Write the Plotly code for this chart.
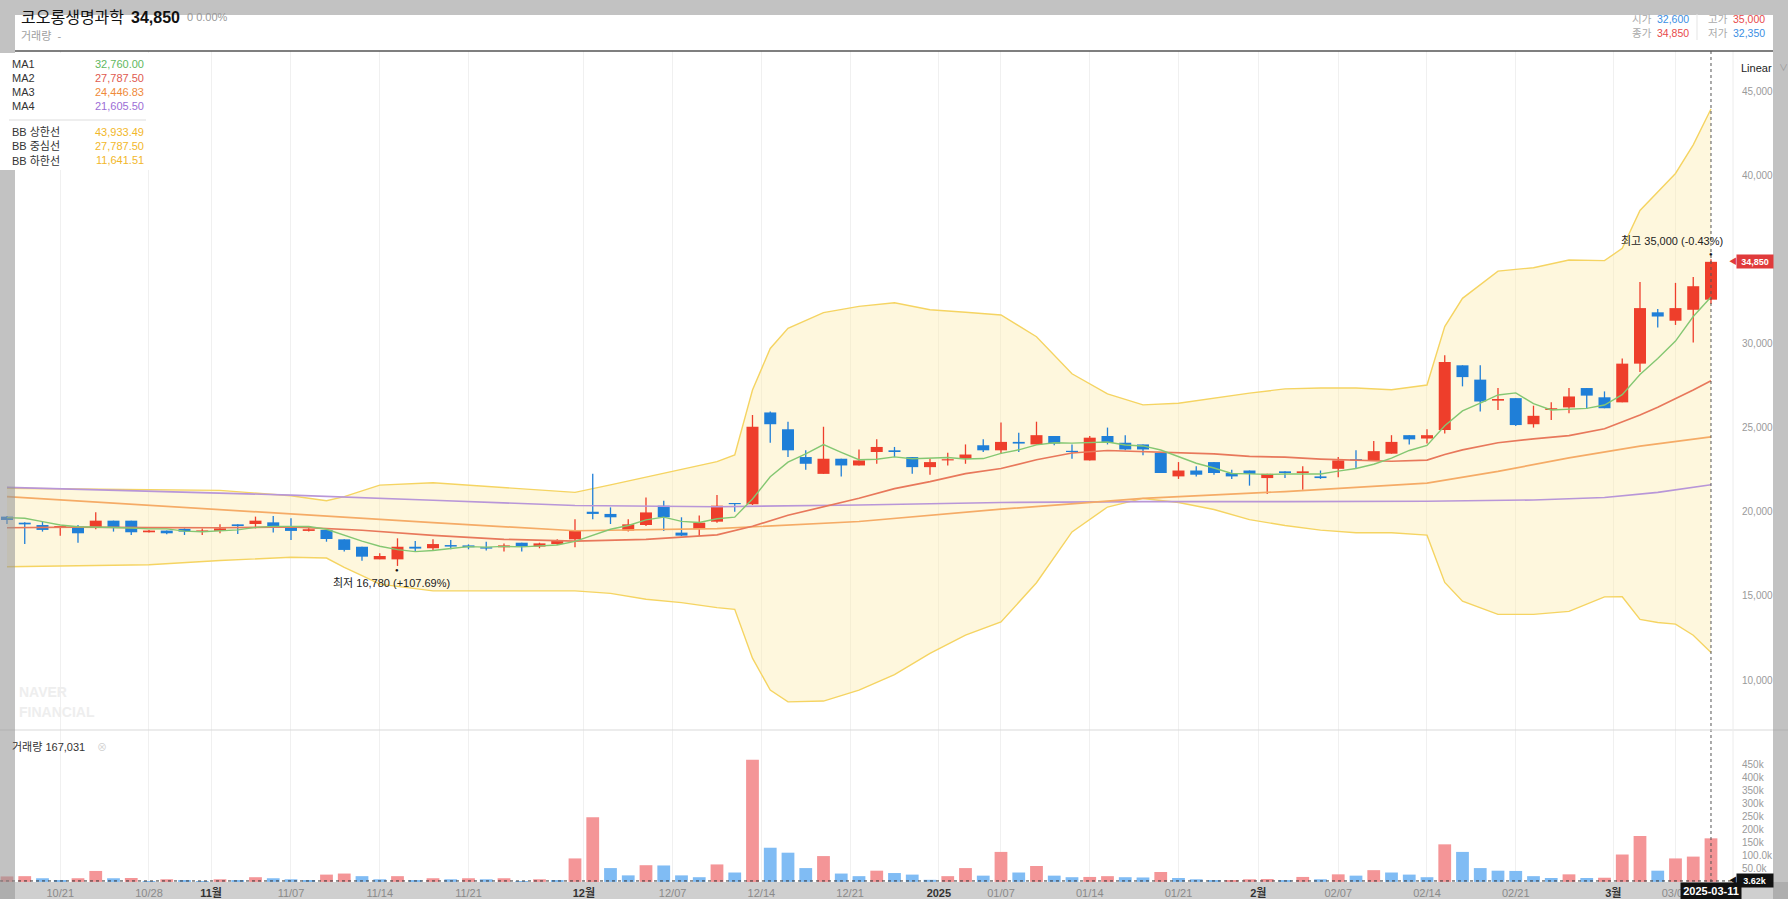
import pandas as pd
import plotly.graph_objects as go

W, H = 1788, 899
FONT = "Liberation Sans, Noto Sans CJK KR, sans-serif"

# trading days shown (KRX calendar)
DATES = pd.bdate_range(
    "2024-10-16", "2025-03-11", freq="C",
    holidays=["2024-12-25", "2024-12-31", "2025-01-01", "2025-01-27", "2025-01-28",
              "2025-01-29", "2025-01-30", "2025-03-03"],
).strftime("%Y-%m-%d").tolist()

OPEN = [19710, 19350, 19210, 19050, 19110, 19070, 19470, 19470, 18780, 18880,
        18980, 18820, 18860, 19250, 19270, 19370, 19050, 18860, 18920, 18360,
        17920, 17170, 17170, 17920, 17830, 18020, 18000, 17890, 17890, 18160,
        17930, 18080, 18360, 20000, 19870, 18880, 19210, 20360, 18760, 18970,
        19410, 20500, 20450, 25900, 24900, 23250, 22250, 23150, 22750, 23550,
        23650, 23250, 22650, 23050, 23150, 23950, 23650, 24150, 24000, 24500,
        23600, 23050, 24500, 24100, 24000, 23500, 22100, 22450, 22950, 22300,
        22450, 22000, 22400, 22300, 22100, 22550, 23100, 23050, 23450, 24550,
        24350, 24850, 28700, 27850, 26600, 26750, 25200, 26050, 26200, 27350,
        26800, 26500, 28800, 31850, 31350, 32000, 32600]
HIGH = [19750, 19370, 19410, 19150, 19210, 19970, 19470, 19470, 18920, 18880,
        19010, 19010, 19250, 19250, 19710, 19750, 19610, 19110, 18920, 18360,
        17920, 17530, 18420, 18260, 18360, 18320, 18060, 18220, 18120, 18160,
        18160, 18360, 19550, 22250, 20260, 19550, 20840, 20660, 19670, 19770,
        21000, 20500, 25750, 25950, 25350, 23650, 25050, 23150, 23700, 24300,
        23850, 23250, 23150, 23500, 24000, 24300, 25300, 24700, 25350, 24500,
        24000, 24500, 25000, 24550, 24000, 23500, 22950, 22700, 22950, 22500,
        22450, 22250, 22400, 22700, 22450, 23250, 23650, 24200, 24550, 24550,
        24900, 29300, 28700, 28700, 27350, 26750, 26300, 26500, 27350, 27350,
        27150, 29100, 33650, 32050, 33600, 33950, 35000]
LOW = [19270, 18080, 18820, 18580, 18160, 18960, 18820, 18620, 18760, 18660,
       18620, 18620, 18720, 18680, 19010, 18760, 18320, 18820, 18220, 17630,
       17090, 17170, 16780, 17630, 17690, 17770, 17770, 17690, 17630, 17630,
       17830, 18020, 17890, 19550, 19270, 18820, 19150, 18860, 18560, 18560,
       19350, 20000, 20400, 24100, 23250, 22500, 22250, 22100, 22750, 22850,
       23250, 22250, 22200, 22750, 22850, 23550, 23450, 23550, 24000, 23950,
       23150, 23050, 24000, 23650, 23350, 22300, 21950, 22100, 22200, 21950,
       21550, 21050, 22000, 21300, 21950, 22050, 22600, 23050, 23450, 24000,
       24050, 24650, 27450, 25950, 26050, 25100, 25000, 25450, 25850, 26100,
       26150, 26500, 28300, 30950, 31100, 30050, 32350]
CLOSE = [19510, 19250, 18920, 19150, 18720, 19470, 19050, 18780, 18880, 18720,
         18820, 18880, 19010, 19150, 19470, 19150, 18860, 18960, 18380, 17730,
         17330, 17370, 17920, 17810, 18080, 17930, 17890, 17810, 18000, 17930,
         18120, 18260, 18880, 19870, 19670, 19250, 19960, 19670, 18580, 19350,
         20360, 20450, 25050, 25200, 23650, 22850, 23150, 22750, 23050, 23850,
         23550, 22650, 22950, 23100, 23400, 23650, 24150, 24050, 24550, 24050,
         23550, 24400, 24100, 23700, 23700, 22300, 22450, 22200, 22300, 22100,
         22250, 22250, 22300, 22400, 22000, 23050, 23050, 23600, 24150, 24300,
         24550, 28900, 28000, 26550, 26700, 25150, 25700, 26150, 26850, 26900,
         26150, 28800, 32100, 31600, 32100, 33400, 34850]
VOLUME = [21000, 22000, 14000, 5000, 14000, 42000, 14000, 15000, 3000, 10000,
          5000, 3000, 10000, 5000, 18000, 14000, 10000, 5000, 28000, 32000,
          22000, 10000, 22000, 5000, 14000, 10000, 14000, 10000, 14000, 3000,
          10000, 5000, 90000, 248000, 53000, 25000, 64000, 63000, 25000, 18000,
          67000, 36000, 468000, 131000, 112000, 53000, 99000, 32000, 22000, 43000,
          34000, 28000, 8000, 22000, 53000, 24000, 115000, 36000, 61000, 24000,
          18000, 19000, 22000, 18000, 17000, 38000, 15000, 10000, 6000, 7000,
          10000, 11000, 5000, 19000, 10000, 29000, 24000, 45000, 36000, 28000,
          18000, 144000, 115000, 53000, 43000, 42000, 22000, 15000, 29000, 15000,
          16000, 105000, 176000, 43000, 90000, 97000, 167031]

MA1 = [19650, 19610, 19410, 19210, 19110, 19100, 19060, 19030, 18980, 18980,
       18850, 18810, 18860, 18920, 19070, 19130, 19130, 19120, 18960, 18610,
       18250, 17950, 17750, 17630, 17700, 17820, 17930, 17900, 17940, 17910,
       17950, 18020, 18240, 18610, 18960, 19180, 19520, 19680, 19430, 19360,
       19580, 19680, 20760, 22080, 22950, 23440, 23990, 23530, 23090, 23120,
       23260, 23150, 23200, 23220, 23130, 23160, 23470, 23680, 23970, 24100,
       24080, 24130, 24140, 23970, 23910, 23670, 23270, 22880, 22600, 22270,
       22250, 22220, 22240, 22250, 22240, 22410, 22570, 22820, 23180, 23640,
       23940, 25110, 25990, 26460, 26940, 27060, 26420, 26050, 26110, 26140,
       26340, 26960, 28150, 29100, 30140, 31600, 32760]

MA2_IDX = [0, 4, 8, 12, 16, 20, 24, 28, 32, 36, 40, 42, 44, 46, 48, 50, 52, 54, 56, 58,
           60, 62, 64, 66, 68, 70, 72, 74, 76, 78, 80, 81, 82, 84, 86, 88, 90, 92, 93,
           94, 95, 96]
MA2 = [19050, 19080, 19060, 19050, 19100, 18900, 18600, 18360, 18250, 18360, 18630,
       19140, 19790, 20300, 20800, 21370, 21790, 22260, 22570, 23090, 23490, 23640,
       23570, 23500, 23440, 23290, 23240, 23130, 23050, 23000, 23070, 23400, 23680,
       24100, 24330, 24520, 24930, 25750, 26210, 26710, 27230, 27787.50]

MA3_IDX = [0, 8, 16, 24, 32, 40, 48, 56, 64, 72, 80, 84, 88, 92, 96]
MA3 = [20900, 20380, 19890, 19350, 18870, 19000, 19420, 20150, 20800, 21200, 21700,
       22400, 23200, 23900, 24446.83]

MA4_IDX = [0, 8, 16, 24, 32, 40, 48, 56, 64, 72, 80, 86, 90, 93, 96]
MA4 = [21450, 21200, 20990, 20680, 20370, 20300, 20400, 20550, 20600, 20600, 20620,
       20700, 20850, 21150, 21605.50]

BB_IDX = [0, 4, 8, 12, 16, 18, 19, 20, 21, 24, 28, 32, 34, 36, 38, 40, 41, 42, 43, 44,
          46, 48, 50, 52, 54, 56, 58, 60, 62, 64, 66, 68, 70, 72, 74, 76, 78, 80, 81, 82,
          84, 86, 88, 90, 91, 92, 93, 94, 95, 96]
BB_UP = [21400, 21370, 21330, 21270, 20950, 20650, 20900, 21250, 21580, 21720,
         21420, 21150, 21600, 22050, 22500, 22980, 23370, 27230, 29700, 30900,
         31830, 32200, 32420, 32000, 31850, 31690, 30400, 28200, 27000, 26350,
         26450, 26750, 27050, 27300, 27350, 27350, 27250, 27530, 31000, 32680,
         34300, 34500, 34960, 34920, 35650, 37900, 39000, 40100, 41800, 43933.49]
BB_LO = [16730, 16790, 16850, 17100, 17300, 17250, 16700, 16200, 15700, 15300,
         15280, 15300, 15150, 14800, 14600, 14300, 14200, 11300, 9400, 8700,
         8750, 9400, 10320, 11580, 12670, 13450, 15780, 18800, 20280, 20790,
         20550, 20130, 19530, 19180, 18910, 18750, 18750, 18610, 15800, 14680,
         13900, 13900, 14080, 14940, 14950, 13600, 13420, 13320, 12660, 11641.51]

TICK_POS = [3, 8, 11.5, 16, 21, 26, 32.5, 37.5, 42.5, 47.5, 52.5, 56, 61, 66, 70.5,
            75, 80, 85, 90.5, 94]
TICK_TEXT = ["10/21", "10/28", "11월", "11/07", "11/14", "11/21", "12월", "12/07",
             "12/14", "12/21", "2025", "01/07", "01/14", "01/21", "2월", "02/07",
             "02/14", "02/21", "3월", "03/07"]
MONTH_TICKS = ["11월", "12월", "2025", "2월", "3월"]

PRICE_TICKS = [10000, 15000, 20000, 25000, 30000, 35000, 40000, 45000]
VOL_TICKS = [50000, 100000, 150000, 200000, 250000, 300000, 350000, 400000, 450000]
VOL_TICK_TEXT = ["50.0k", "100.0k", "150k", "200k", "250k", "300k", "350k", "400k", "450k"]
CROSS_VOL = 3620

RED, BLUE = "#ee3e2b", "#1f7fd8"
VRED, VBLUE = "#f49597", "#80bcf4"


def px(x):
    return x / W


def py(y):
    return 1 - y / H


n = len(CLOSE)
idx = list(range(n))

fig = go.Figure()

# bollinger band
fig.add_trace(go.Scatter(x=BB_IDX, y=BB_UP, mode="lines",
                         line=dict(color="#f5d462", width=1.4), hoverinfo="skip"))
fig.add_trace(go.Scatter(x=BB_IDX, y=BB_LO, mode="lines", fill="tonexty",
                         fillcolor="rgba(252,233,165,0.38)",
                         line=dict(color="#f5d462", width=1.4), hoverinfo="skip"))

# candles: thin wick segments, thick body segments (drawn above the band fill)
for col, up in ((RED, True), (BLUE, False)):
    wx, wy, bx, by = [], [], [], []
    for i in idx:
        if (CLOSE[i] >= OPEN[i]) == up:
            wx += [i, i, None]
            wy += [LOW[i], HIGH[i], None]
            lo_b, hi_b = min(OPEN[i], CLOSE[i]), max(OPEN[i], CLOSE[i])
            if hi_b - lo_b < 70:
                hi_b = lo_b + 70
            bx += [i, i, None]
            by += [lo_b, hi_b, None]
    fig.add_trace(go.Scatter(x=wx, y=wy, mode="lines", line=dict(color=col, width=1.3),
                             hoverinfo="skip"))
    fig.add_trace(go.Scatter(x=bx, y=by, mode="lines", line=dict(color=col, width=12),
                             hoverinfo="skip"))

# moving averages
fig.add_trace(go.Scatter(x=MA4_IDX, y=MA4, mode="lines", line=dict(color="#b896d8", width=1.6),
                         hoverinfo="skip"))
fig.add_trace(go.Scatter(x=MA3_IDX, y=MA3, mode="lines", line=dict(color="#f5ab66", width=1.7),
                         hoverinfo="skip"))
fig.add_trace(go.Scatter(x=MA2_IDX, y=MA2, mode="lines", line=dict(color="#e8785b", width=1.7),
                         hoverinfo="skip"))
fig.add_trace(go.Scatter(x=idx, y=MA1, mode="lines", line=dict(color="#84c772", width=1.4),
                         hoverinfo="skip"))

# volume, coloured by change versus previous day
vol_col = [VRED if i == 0 or VOLUME[i] >= VOLUME[i - 1] else VBLUE for i in idx]
fig.add_trace(go.Bar(x=idx, y=VOLUME, width=0.72, xaxis="x2", yaxis="y2",
                     marker=dict(color=vol_col, line=dict(width=0)),
                     hovertext=DATES, hoverinfo="text+y"))

tick_text = [f"<b><span style='color:#333'>{t}</span></b>" if t in MONTH_TICKS else t
             for t in TICK_TEXT]

XR = [-0.394, 97.24]
XD = [0, px(1733)]

fig.update_layout(
    width=W, height=H, margin=dict(l=0, r=0, t=0, b=0), autosize=False,
    paper_bgcolor="white", plot_bgcolor="white", showlegend=False,
    font=dict(family=FONT, color="#333"),
    xaxis=dict(domain=XD, range=XR, anchor="y", tickvals=TICK_POS, showticklabels=False,
               showgrid=True, gridcolor="#f0f0f0", gridwidth=1, zeroline=False, ticks=""),
    yaxis=dict(domain=[py(730), py(51)], range=[7031, 47377], anchor="x", side="right",
               tickvals=PRICE_TICKS, tickformat=",d", showgrid=False, zeroline=False,
               ticks="", ticklabelstandoff=8, tickfont=dict(size=10, color="#9a9a9a")),
    xaxis2=dict(domain=XD, range=XR, anchor="y2", matches="x", tickvals=TICK_POS,
                ticktext=tick_text, showgrid=True, gridcolor="#f0f0f0", zeroline=False,
                ticks="", tickfont=dict(size=11, color="#8a8a8a"), ticklabelstandoff=3),
    yaxis2=dict(domain=[py(881.9), py(730)], range=[0, 582400], anchor="x2", side="right",
                tickvals=VOL_TICKS, ticktext=VOL_TICK_TEXT, showgrid=False, zeroline=False,
                ticks="", ticklabelstandoff=8, tickfont=dict(size=10, color="#9a9a9a")),
)

GRAY = "rgba(150,150,150,0.58)"
shapes = [
    # bottom band under the date labels
    dict(type="rect", xref="paper", yref="paper", x0=0, x1=1, y0=0, y1=py(882),
         fillcolor="#cfcfcf", line_width=0, layer="below"),
    # crosshair
    dict(type="line", xref="x", yref="paper", x0=n - 1, x1=n - 1, y0=py(882), y1=py(51),
         line=dict(color="#555", width=1, dash="dot")),
    dict(type="line", xref="paper", yref="y2", x0=0, x1=px(1733), y0=CROSS_VOL, y1=CROSS_VOL,
         line=dict(color="#333", width=1, dash="dot")),
    # pane borders
    dict(type="line", xref="paper", yref="paper", x0=0, x1=1, y0=py(730), y1=py(730),
         line=dict(color="#d9d9d9", width=1)),
    dict(type="line", xref="paper", yref="paper", x0=px(1733), x1=px(1733), y0=py(882),
         y1=py(51), line=dict(color="#ececec", width=1)),
    # dim frame
    dict(type="rect", xref="paper", yref="paper", x0=0, x1=1, y0=py(15), y1=1,
         fillcolor=GRAY, line_width=0),
    dict(type="rect", xref="paper", yref="paper", x0=0, x1=px(15), y0=0, y1=py(15),
         fillcolor=GRAY, line_width=0),
    dict(type="rect", xref="paper", yref="paper", x0=px(1773), x1=1, y0=0, y1=py(15),
         fillcolor=GRAY, line_width=0),
    # legend panel
    dict(type="rect", xref="paper", yref="paper", x0=0, x1=px(160), y0=py(170), y1=py(53),
         fillcolor="white", line_width=0),
    dict(type="line", xref="paper", yref="paper", x0=px(9), x1=px(146), y0=py(120),
         y1=py(120), line=dict(color="#dddddd", width=1)),
    # header separator
    dict(type="line", xref="paper", yref="paper", x0=px(15), x1=px(1773), y0=py(51),
         y1=py(51), line=dict(color="#555", width=1.5)),
    dict(type="line", xref="paper", yref="paper", x0=px(1697), x1=px(1697), y0=py(40),
         y1=py(14), line=dict(color="#e5e5e5", width=1)),
]
fig.update_layout(shapes=shapes)

ann = []


def text(x, y, s, size=11, color="#333", anchor="left", **kw):
    ann.append(dict(xref="paper", yref="paper", x=px(x), y=py(y), text=s, showarrow=False,
                    xanchor=anchor, yanchor="middle", font=dict(size=size, color=color),
                    **kw))


# header
text(19, 17, "코오롱생명과학", size=16, color="#111")
text(129, 17, f"<b>{CLOSE[-1]:,}</b>", size=16, color="#111")
text(185, 17, "0 0.00%", size=11, color="#999")
text(19, 36, "거래량  -", size=11, color="#a0a0a0")
for x, y, lab, val, col in ((1630, 19, "시가", OPEN[-1], "#3b8fe3"),
                            (1706, 19, "고가", HIGH[-1], "#e84a4a"),
                            (1630, 33, "종가", CLOSE[-1], "#e84a4a"),
                            (1706, 33, "저가", LOW[-1], "#3b8fe3")):
    text(x, y, lab, size=10.5, color="#aaa")
    text(x + 61, y, f"{val:,}", size=10.5, color=col, anchor="right")

# indicator legend
rows = [(64, "MA1", MA1[-1], "#5fb85f"), (78, "MA2", MA2[-1], "#e05a50"),
        (92, "MA3", MA3[-1], "#ef8a3a"), (106, "MA4", MA4[-1], "#9c6ed6"),
        (132, "BB 상한선", BB_UP[-1], "#f2b72a"), (146, "BB 중심선", MA2[-1], "#f2b72a"),
        (160, "BB 하한선", BB_LO[-1], "#f2b72a")]
for y, lab, val, col in rows:
    text(10, y, lab, size=11, color="#333")
    text(146, y, f"{val:,.2f}", size=11, color=col, anchor="right")

text(1739, 68, "Linear", size=11, color="#222")
text(1777, 68, "∨", size=9, color="#999")

# watermark and volume title
text(17, 692, "<b>NAVER</b>", size=14, color="#eeeeee")
text(17, 712, "<b>FINANCIAL</b>", size=14, color="#eeeeee")
text(10, 747, f"거래량 {VOLUME[-1]:,}", size=11, color="#333")
text(95, 747, "⊗", size=10, color="#d0d0d0")

# high / low markers
hi = HIGH.index(max(HIGH))
lo = LOW.index(min(LOW))
ann.append(dict(x=hi, y=HIGH[hi], xref="x", yref="y", text="●", showarrow=False,
                yshift=5, font=dict(size=6, color="#111")))
ann.append(dict(x=hi, y=HIGH[hi], xref="x", yref="y", showarrow=False, yshift=18,
                xanchor="right", xshift=14,
                text=f"최고 {HIGH[hi]:,} ({(CLOSE[-1] / HIGH[hi] - 1) * 100:.2f}%)",
                font=dict(size=11, color="#222")))
ann.append(dict(x=lo, y=LOW[lo], xref="x", yref="y", text="●", showarrow=False,
                yshift=-4, font=dict(size=6, color="#111")))
ann.append(dict(x=lo, y=LOW[lo], xref="x", yref="y", showarrow=False, yshift=-17,
                xshift=-6, text=f"최저 {LOW[lo]:,} (+{(CLOSE[-1] / LOW[lo] - 1) * 100:.2f}%)",
                font=dict(size=11, color="#222")))

# axis tags
ann.append(dict(xref="paper", yref="y", x=px(1736), y=CLOSE[-1], xanchor="left",
                text=f"<b>{CLOSE[-1]:,}</b>", showarrow=False, bgcolor="#e03a3b",
                font=dict(size=9, color="white"), width=34, height=11, borderpad=1))
ann.append(dict(xref="paper", yref="y", x=px(1736), y=CLOSE[-1], xanchor="right",
                text="◀", showarrow=False, font=dict(size=8, color="#e03a3b"), xshift=3))
ann.append(dict(xref="paper", yref="y2", x=px(1736), y=CROSS_VOL, xanchor="left",
                text=f"<b>{CROSS_VOL / 1000:.2f}k</b>", showarrow=False, bgcolor="#111",
                font=dict(size=9, color="white"), width=34, height=11, borderpad=1))
ann.append(dict(xref="paper", yref="y2", x=px(1736), y=CROSS_VOL, xanchor="right",
                text="◀", showarrow=False, font=dict(size=8, color="#111"), xshift=3))
ann.append(dict(xref="x", yref="paper", x=n - 1, y=py(891), yanchor="middle",
                text=f"<b>{DATES[-1]}</b>", showarrow=False, bgcolor="#111",
                font=dict(size=11, color="white"), width=58, height=14, borderpad=1))

fig.update_layout(annotations=ann)

fig.write_html("out.html", config={"displayModeBar": False},
               post_script="document.body.style.margin='0';")
